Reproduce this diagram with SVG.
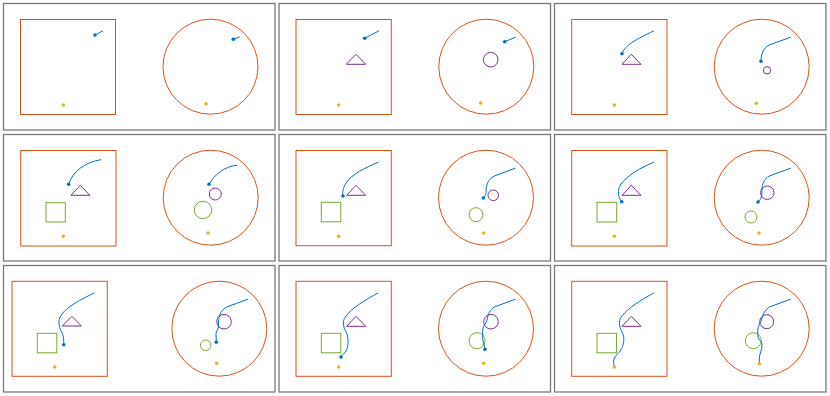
<svg xmlns="http://www.w3.org/2000/svg" width="830" height="396" viewBox="0 0 830 396">
<style>
.frame{fill:#fff;stroke:#7a7a7a;stroke-width:1.3}
.env{fill:none;stroke:#D95319;stroke-width:1}
.tri{fill:none;stroke:#7E2F8E;stroke-width:1}
.grn{fill:none;stroke:#77AC30;stroke-width:1}
.path{fill:none;stroke:#0072BD;stroke-width:1;stroke-linecap:round;stroke-linejoin:round}
.bd{fill:#0072BD}
.yd{fill:#EDB120}
</style>
<rect width="830" height="396" fill="#fff"/>
<g id="frames">
<rect class="frame" x="3.5" y="3.5" width="271.5" height="126.5"/>
<rect class="frame" x="279" y="3.5" width="271.5" height="126.5"/>
<rect class="frame" x="554.5" y="3.5" width="271.5" height="126.5"/>
<rect class="frame" x="3.5" y="134.5" width="271.5" height="126.5"/>
<rect class="frame" x="279" y="134.5" width="271.5" height="126.5"/>
<rect class="frame" x="554.5" y="134.5" width="271.5" height="126.5"/>
<rect class="frame" x="3.5" y="265.5" width="271.5" height="126.5"/>
<rect class="frame" x="279" y="265.5" width="271.5" height="126.5"/>
<rect class="frame" x="554.5" y="265.5" width="271.5" height="126.5"/>
</g>
<g id="panel1">
<rect class="env" x="20.5" y="19.5" width="95" height="95"/>
<circle class="env" cx="210.5" cy="66.7" r="47.5"/>
<path class="path" d="M95,35 L102.7,31"/>
<circle class="bd" cx="95" cy="35" r="1.8"/>
<circle class="yd" cx="63.3" cy="105" r="1.8"/>
<path class="path" d="M233.3,39.3 L239.3,37"/>
<circle class="bd" cx="233.3" cy="39.3" r="1.8"/>
<circle class="yd" cx="206" cy="103.7" r="1.8"/>
</g>
<g id="panel2">
<rect class="env" x="296" y="19.5" width="95.3" height="95"/>
<polygon class="tri" points="356,54.3 346.3,64.3 365.7,64.3"/>
<circle class="env" cx="486.3" cy="66.7" r="47.5"/>
<circle class="tri" cx="490.7" cy="59.7" r="7.3"/>
<path class="path" d="M364.7,38.3 L378.7,31"/>
<circle class="bd" cx="364.7" cy="38.3" r="1.8"/>
<circle class="yd" cx="338.7" cy="105" r="1.8"/>
<path class="path" d="M504.7,41.7 L515.3,37.3"/>
<circle class="bd" cx="504.7" cy="41.7" r="1.8"/>
<circle class="yd" cx="480.7" cy="103" r="1.8"/>
</g>
<g id="panel3">
<rect class="env" x="571.7" y="19.5" width="95.3" height="95"/>
<polygon class="tri" points="631.3,54.3 622,64.3 641,64.3"/>
<circle class="env" cx="761.7" cy="66.7" r="47.5"/>
<circle class="tri" cx="767" cy="70.3" r="3.7"/>
<path class="path" d="M622,53.7 C625,45 635,40 653.7,31"/>
<circle class="bd" cx="622" cy="53.7" r="1.8"/>
<circle class="yd" cx="614.3" cy="105" r="1.8"/>
<path class="path" d="M790.3,37.3 L769.3,45 C763,48 761,54 761,61.3"/>
<circle class="bd" cx="761" cy="61.3" r="1.8"/>
<circle class="yd" cx="756.3" cy="103.3" r="1.8"/>
</g>
<g id="panel4">
<rect class="env" x="20.7" y="150.5" width="95.3" height="95.5"/>
<polygon class="tri" points="80.3,185.3 71,195.3 90,195.3"/>
<rect class="grn" x="46" y="202.7" width="19.3" height="19.3"/>
<circle class="env" cx="210.7" cy="197.7" r="47.5"/>
<circle class="tri" cx="215.3" cy="194" r="6"/>
<circle class="grn" cx="203" cy="210" r="8.7"/>
<path class="path" d="M68.7,184.3 C72,172 85,162 100.7,159.7"/>
<circle class="bd" cx="68.7" cy="184.3" r="1.8"/>
<circle class="yd" cx="63.3" cy="236.3" r="1.8"/>
<path class="path" d="M209,184.3 C214,175 225,166 236.7,165.3"/>
<circle class="bd" cx="209" cy="184.3" r="1.8"/>
<circle class="yd" cx="208" cy="233" r="1.8"/>
</g>
<g id="panel5">
<rect class="env" x="296" y="150.5" width="95.3" height="95.2"/>
<polygon class="tri" points="356,185.3 346.7,195.3 365.7,195.3"/>
<rect class="grn" x="321.3" y="202.3" width="19.5" height="19.5"/>
<circle class="env" cx="486" cy="197.7" r="47.5"/>
<circle class="tri" cx="493.3" cy="195.3" r="5.3"/>
<circle class="grn" cx="476" cy="214.7" r="7"/>
<path class="path" d="M378,162.3 C365,168 352,174 346,183 C343,188 342,193 343,196"/>
<circle class="bd" cx="343" cy="196" r="1.8"/>
<circle class="yd" cx="338.7" cy="236.3" r="1.8"/>
<path class="path" d="M515,168.3 L494.3,176 C488,179 486,185 486,192.7 C486,195 484.5,197 483.3,198"/>
<circle class="bd" cx="483.3" cy="198" r="1.8"/>
<circle class="yd" cx="483.7" cy="233" r="1.8"/>
</g>
<g id="panel6">
<rect class="env" x="571.7" y="150.5" width="95.3" height="95.5"/>
<polygon class="tri" points="631.3,185.3 622,195.3 641,195.3"/>
<rect class="grn" x="597" y="202.3" width="19.7" height="19.7"/>
<circle class="env" cx="761.7" cy="197.7" r="47.5"/>
<circle class="tri" cx="767.3" cy="192.7" r="6.7"/>
<circle class="grn" cx="751" cy="217" r="6"/>
<path class="path" d="M653.7,162.3 C640,168 628,175 621,184 C617,190 618,198 621.7,201.7"/>
<circle class="bd" cx="621.7" cy="201.7" r="1.8"/>
<circle class="yd" cx="614.3" cy="236.3" r="1.8"/>
<path class="path" d="M790.3,168.3 L769.3,176 C764,179 762,184 762,190 L761.7,196 C761,199 759,201 758,202"/>
<circle class="bd" cx="758" cy="202" r="1.8"/>
<circle class="yd" cx="759" cy="233" r="1.8"/>
</g>
<g id="panel7">
<rect class="env" x="12" y="281.3" width="95.3" height="95"/>
<polygon class="tri" points="72,316.3 62.3,326 81.3,326"/>
<rect class="grn" x="37.3" y="333.3" width="19.5" height="19.5"/>
<circle class="env" cx="219.3" cy="328.7" r="47.5"/>
<circle class="tri" cx="224" cy="321.7" r="7.3"/>
<circle class="grn" cx="205.7" cy="345.3" r="5.3"/>
<path class="path" d="M94,293 C80,300 68,306 62,314 C56,322 60,328 62.5,334 C64,338 63.7,342 63.7,344.7"/>
<circle class="bd" cx="63.7" cy="344.7" r="1.8"/>
<circle class="yd" cx="54.7" cy="367" r="1.8"/>
<path class="path" d="M247.7,299.3 L226.7,307 C221,310 219,315 218.5,322 L218.3,327 C218,330 216,331 216,334 L216.3,342.3"/>
<circle class="bd" cx="216.3" cy="342.3" r="1.8"/>
<circle class="yd" cx="216.7" cy="363.3" r="1.8"/>
</g>
<g id="panel8">
<rect class="env" x="296" y="281.3" width="95.3" height="95"/>
<polygon class="tri" points="356,316.3 346.7,326.3 365.7,326.3"/>
<rect class="grn" x="321.3" y="333.3" width="19.5" height="19.5"/>
<circle class="env" cx="486" cy="328.7" r="47.5"/>
<circle class="tri" cx="491" cy="321.7" r="7.3"/>
<circle class="grn" cx="477" cy="340.7" r="8"/>
<path class="path" d="M378,293 C365,300 352,308 346,316 C341,322 344,328 347,334 C349,340 348,348 346,351 C344,354 342,355 341,357"/>
<circle class="bd" cx="341" cy="357" r="1.8"/>
<circle class="yd" cx="338.7" cy="367" r="1.8"/>
<path class="path" d="M515,299.3 L494.3,307 C490,310 488,314 487.5,318 C487,323 483,325 482.7,330 L482.7,338.7 C483,343 485,346 485,349.3"/>
<circle class="bd" cx="485" cy="349.3" r="1.8"/>
<circle class="yd" cx="483.7" cy="363.3" r="1.8"/>
</g>
<g id="panel9">
<rect class="env" x="571.7" y="281.3" width="95.3" height="95"/>
<polygon class="tri" points="631.3,316.3 622,326.3 641,326.3"/>
<rect class="grn" x="597" y="333.3" width="19.5" height="19.5"/>
<circle class="env" cx="761.7" cy="328.7" r="47.5"/>
<circle class="tri" cx="766.7" cy="321.7" r="7"/>
<circle class="grn" cx="753.3" cy="340.7" r="8"/>
<path class="path" d="M653.7,293 C641,300 628,308 622,316 C617,322 620,328 623,334 C625,340 623,346 621,350 C619,353 615,356 614,359 C613,362 614,364 614.3,367"/>
<circle class="yd" cx="614.3" cy="367" r="1.8"/>
<path class="path" d="M790.3,299.3 L769.3,307 C765,310 763,314 762,318 C761,323 758,325 757.7,330 L758,337 C758.5,340 762,341 762,345 C762,350 759.5,354 759.3,358 L759.3,363.7"/>
<circle class="yd" cx="759.3" cy="363.7" r="1.8"/>
</g>
</svg>
